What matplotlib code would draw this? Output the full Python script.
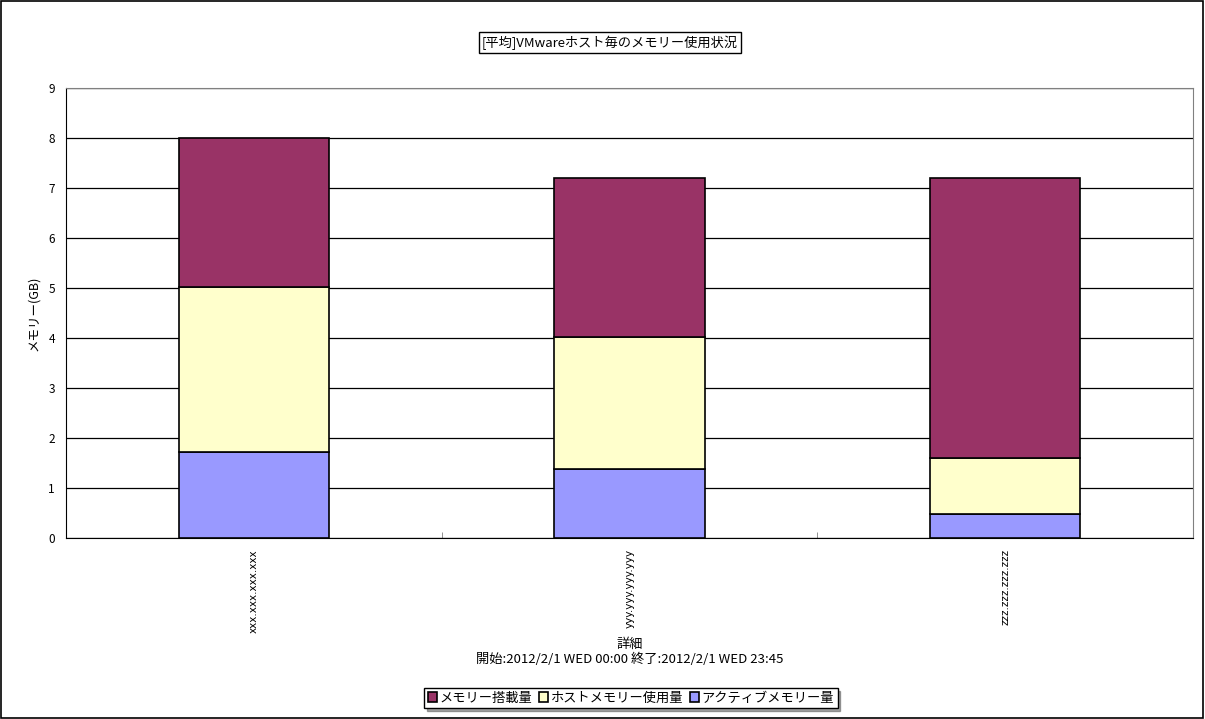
import matplotlib
matplotlib.use('Agg')
import matplotlib.pyplot as plt
import numpy as np
from matplotlib.patches import Rectangle

plt.rcParams['font.family'] = ['Noto Sans CJK JP', 'DejaVu Sans']

hosts = ['xxx.xxx.xxx.xxx', 'yyy.yyy.yyy.yyy', 'zzz.zzz.zzz.zzz']
active = [1.72, 1.38, 0.48]      # アクティブメモリー量
host_used = [3.30, 2.64, 1.12]   # ホストメモリー使用量
installed = [2.98, 3.18, 5.60]   # メモリー搭載量
yticks = list(range(0, 10))

fig = plt.figure(figsize=(12.05, 7.19), dpi=100)
ax = fig.add_axes([0.0548, 0.2517, 0.9353, 0.6259])

x = np.arange(len(hosts))
w = 0.4
b1 = ax.bar(x, active, w, color='#9999FF', edgecolor='black', linewidth=1.2, label='アクティブメモリー量', zorder=3)
b2 = ax.bar(x, host_used, w, bottom=active, color='#FFFFCC', edgecolor='black', linewidth=1.2,
            label='ホストメモリー使用量', zorder=3)
b3 = ax.bar(x, installed, w, bottom=np.array(active) + np.array(host_used), color='#993366',
            edgecolor='black', linewidth=1.2, label='メモリー搭載量', zorder=3)

ax.set_xlim(-0.5, len(hosts) - 0.5)
ax.set_ylim(0, 9)
ax.set_yticks(yticks)
ax.tick_params(axis='y', length=0, labelsize=8.5, pad=8)
ax.yaxis.grid(True, color='black', linewidth=0.9, zorder=0)
ax.set_xticks(x)
ax.set_xticklabels(hosts, rotation=90, fontsize=7.5, family=['DejaVu Sans'])
ax.tick_params(axis='x', length=0, pad=8)
ax.set_xticks(np.arange(0.5, len(hosts) - 0.5), minor=True)
ax.tick_params(axis='x', which='minor', direction='in', length=4, color='gray')
for s in ax.spines.values():
    s.set_color('gray')
ax.spines['left'].set_color('black')
ax.spines['bottom'].set_color('black')

ax.set_ylabel('メモリー(GB)', fontsize=9, labelpad=6)
ax.set_xlabel('詳細\n開始:2012/2/1 WED 00:00 終了:2012/2/1 WED 23:45', fontsize=9.5,
              labelpad=4, linespacing=1.1)

fig.text(0.5062, 0.941, '[平均]VMwareホスト毎のメモリー使用状況', ha='center', va='center', fontsize=9.5,
         bbox=dict(boxstyle='square,pad=0.25', facecolor='white', edgecolor='black', linewidth=1))

leg = fig.legend(handles=[b3, b2, b1], loc='center', bbox_to_anchor=(0.5236, 0.0292), ncol=3,
                 fontsize=9.5, frameon=True, fancybox=False, shadow=True, handlelength=0.7,
                 handleheight=0.7, handletextpad=0.2, columnspacing=0.5, borderpad=0.25)
leg.get_frame().set_edgecolor('black')
leg.get_frame().set_linewidth(1)

fig.patches.append(Rectangle((0.001, 0.002), 0.997, 0.996, transform=fig.transFigure,
                             fill=False, edgecolor='black', linewidth=1.2))

fig.savefig('out.png', dpi=100)
